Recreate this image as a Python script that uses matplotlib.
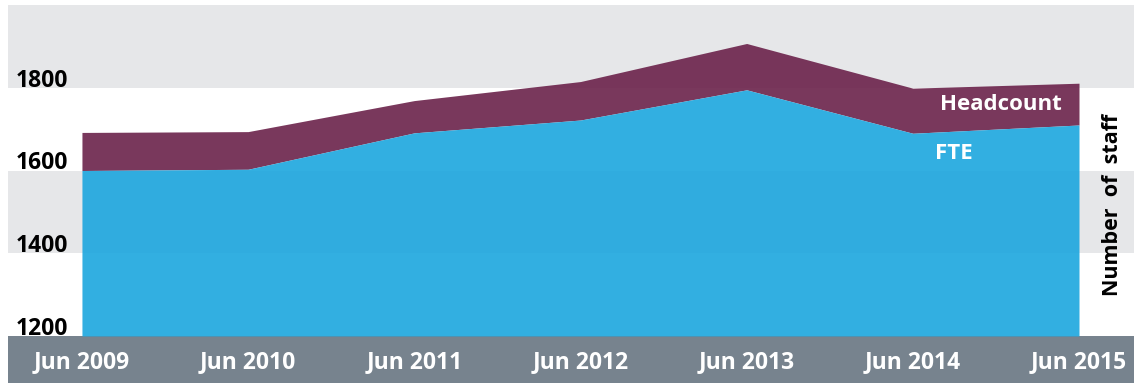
import matplotlib
matplotlib.use("Agg")
import matplotlib.pyplot as plt
from matplotlib.patches import Rectangle
from matplotlib.transforms import blended_transform_factory

plt.rcParams['font.family'] = ['Open Sans', 'DejaVu Sans']

# staff numbers, June of each year
years = ["Jun 2009", "Jun 2010", "Jun 2011", "Jun 2012", "Jun 2013", "Jun 2014", "Jun 2015"]
headcount = [1692, 1694, 1769, 1815, 1907, 1799, 1811]
fte = [1600, 1603, 1691, 1722, 1795, 1690, 1710]
yticks = [1200, 1400, 1600, 1800]

band_grey = "#e6e7e9"
blue = "#1ca6de"
purple = "#6b224a"
bar_grey = "#77838e"

fig = plt.figure(figsize=(11.34, 3.83), dpi=100)
ax = fig.add_axes([8/1134, 47/383, 1126/1134, 331/383])

x = list(range(len(years)))
ax.set_xlim(-0.445, 6.331)
ax.set_ylim(1200, 2000)

# alternating horizontal bands
ax.axhspan(1800, 2000, color=band_grey, lw=0, zorder=0)
ax.axhspan(1400, 1600, color=band_grey, lw=0, zorder=0)

# headcount shown as the strip above FTE
ax.fill_between(x, fte, headcount, color=purple, alpha=0.9, lw=0, zorder=2)
ax.fill_between(x, 1200, fte, color=blue, alpha=0.9, lw=0, zorder=3)

# y labels sit on top of their gridline
tr = blended_transform_factory(ax.transAxes, ax.transData)
for v in yticks:
    ax.text(0.0071, v + 3, str(v), transform=tr, ha='left', va='baseline',
            fontsize=16.5, fontweight='bold', color='black', zorder=1)

ax.text(5.897, 1759, "Headcount", ha='right', va='center', fontsize=16,
        fontweight='bold', color='white', zorder=4)
ax.text(5.133, 1641, "FTE", ha='left', va='center', fontsize=16,
        fontweight='bold', color='white', zorder=4)

ax.text(1112/1134, 1 - 205/383, "Number  of  staff", transform=fig.transFigure,
        rotation=90, ha='center', va='center', fontsize=15.5, fontweight='bold')

ax.set_xticks(x)
ax.set_xticklabels(years, fontsize=16.5, fontweight='bold', color='white')
ax.set_yticks([])
ax.tick_params(axis='x', length=0, pad=10)
for s in ax.spines.values():
    s.set_visible(False)

# dark strip holding the date labels
fig.add_artist(Rectangle((8/1134, 0), 1126/1134, 47/383, transform=fig.transFigure,
                         facecolor=bar_grey, edgecolor='none', zorder=-1))

fig.savefig("out.png", dpi=100)
